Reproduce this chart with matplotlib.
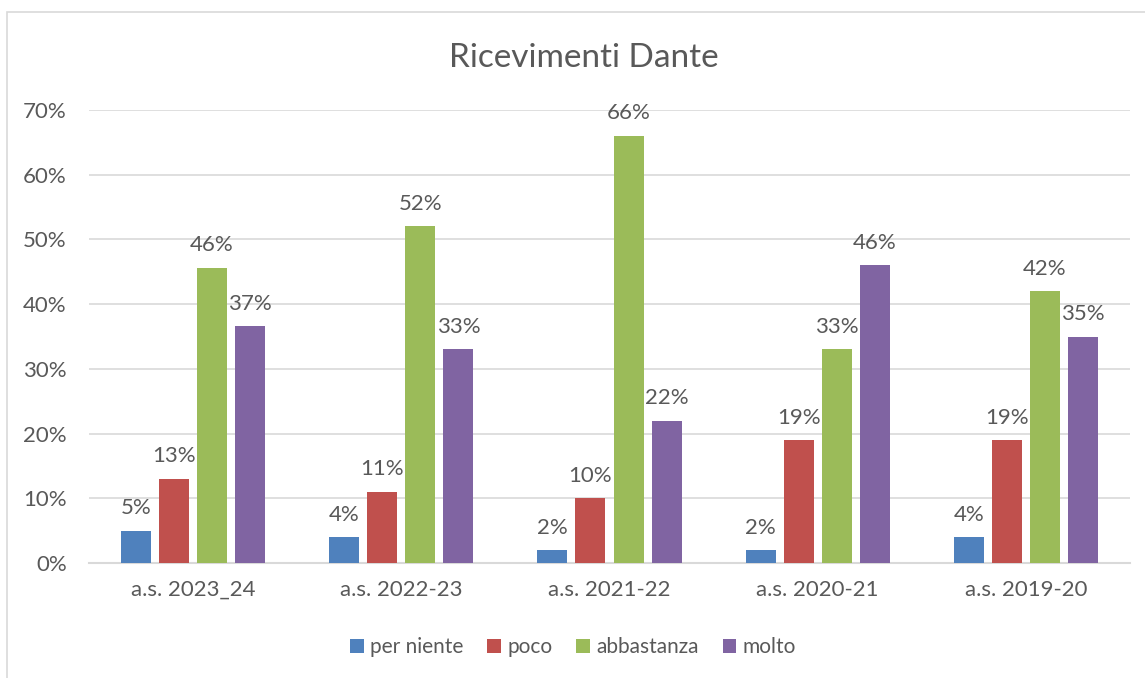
import numpy as np
import matplotlib.pyplot as plt
from matplotlib.patches import Rectangle

categories = ["a.s. 2023_24", "a.s. 2022-23", "a.s. 2021-22", "a.s. 2020-21", "a.s. 2019-20"]
series_names = ["per niente", "poco", "abbastanza", "molto"]
per_niente = [5, 4, 2, 2, 4]
poco = [13, 11, 10, 19, 19]
abbastanza = [45.6, 52, 66, 33, 42]
molto = [36.6, 33, 22, 46, 35]
colors = ["#4F81BD", "#C0504D", "#9BBB59", "#8064A2"]

plt.rcParams['font.family'] = ['Lato', 'DejaVu Sans']
text_col = "#595959"
grid_col = "#D9D9D9"

fig = plt.figure(figsize=(11.45, 6.78), dpi=100)
# chart frame
fig.patches.append(Rectangle((7 / 1145, -0.01), 1.05, 1 - 12 / 678 + 0.01,
                             transform=fig.transFigure, fill=False,
                             edgecolor=grid_col, linewidth=1.2))
ax = fig.add_axes([89 / 1145, 1 - 563 / 678, (1130 - 89) / 1145, (563 - 110) / 678])

x = np.arange(len(categories))
width = 30 / 208
step = 38 / 208
all_series = [per_niente, poco, abbastanza, molto]
for i, (name, vals) in enumerate(zip(series_names, all_series)):
    offs = (i - 1.5) * step
    bars = ax.bar(x + offs, np.array(vals) / 100, width, color=colors[i],
                  label=name, zorder=3)
    for b, v in zip(bars, vals):
        ax.annotate(f"{v:.0f}%", (b.get_x() + b.get_width() / 2, b.get_height()),
                    xytext=(0, 9), textcoords="offset points", ha="center",
                    va="bottom", fontsize=16, color=text_col)

ax.set_xlim(-0.5, len(categories) - 0.5)
ax.set_ylim(0, 0.7)
ax.set_yticks(np.arange(0, 0.71, 0.1))
ax.set_yticklabels([f"{int(round(t * 100))}%" for t in np.arange(0, 0.71, 0.1)])
ax.set_xticks(x)
ax.set_xticklabels(categories)
ax.tick_params(length=0, labelsize=16, colors=text_col)
ax.tick_params(axis='x', pad=12)
ax.tick_params(axis='y', pad=16)
ax.grid(axis='y', color=grid_col, linewidth=1.2, zorder=0)
for s in ["top", "right", "left"]:
    ax.spines[s].set_visible(False)
ax.spines["bottom"].set_color(grid_col)
ax.spines["bottom"].set_linewidth(1.5)

fig.text(584 / 1145, 1 - 58 / 678, "Ricevimenti Dante", ha="center", va="center",
         fontsize=24, color=text_col)

ax.legend(loc="center", bbox_to_anchor=(573 / 1145, 1 - 647 / 678),
          bbox_transform=fig.transFigure, ncol=4, frameon=False,
          fontsize=15, labelcolor=text_col, handlelength=0.65, handleheight=0.65,
          handletextpad=0.3, columnspacing=1.15)

fig.savefig("out.png", dpi=100)
